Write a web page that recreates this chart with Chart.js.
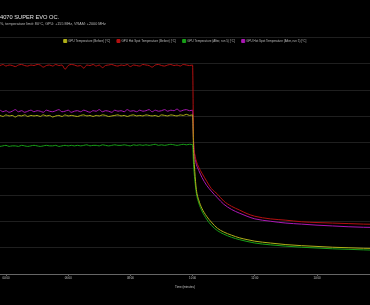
<!DOCTYPE html>
<html><head><meta charset="utf-8">
<script src="https://cdn.jsdelivr.net/npm/chart.js@4.4.1/dist/chart.umd.min.js"></script>
<style>html,body{margin:0;padding:0;background:#000;overflow:hidden}#wrap{position:relative;width:370px;height:305px;background:#000}</style>
</head><body><div id="wrap"><canvas id="c" width="370" height="305"></canvas></div>
<script>
const titleText = '4070 SUPER EVO OC.';
const subtitleText = '%, temperature limit: 80°C, GPU: +155 MHz, VRAM: +2000 MHz';
const xTitleText = 'Time (minutes)';
const seriesNames = [
  'GPU Temperature (Before) [°C]',
  'GPU Hot Spot Temperature (Before) [°C]',
  'GPU Temperature (After, run 5) [°C]',
  'GPU Hot Spot Temperature (After, run 5) [°C]'
];
const timeMinutes = [
  3.7,3.8,3.9,4.0,4.1,4.2,4.3,4.4,
  4.5,4.6,4.7,4.8,4.9,5.0,5.1,5.2,
  5.3,5.4,5.5,5.6,5.7,5.8,5.9,6.0,
  6.1,6.2,6.3,6.4,6.5,6.6,6.7,6.8,
  6.9,7.0,7.1,7.2,7.3,7.4,7.5,7.6,
  7.7,7.8,7.9,8.0,8.1,8.2,8.3,8.4,
  8.5,8.6,8.7,8.8,8.9,9.0,9.1,9.2,
  9.3,9.4,9.5,9.6,9.7,9.8,9.9,10.0,
  10.03,10.07,10.12,10.2,10.3,10.45,10.6,10.8,11.0,11.25,11.5,11.75,12.0,12.5,13.0,13.5,14.0,14.5,15.0,15.5,16.0
];
const gpuTempBefore = [
  60.1,60.2,60.0,60.3,60.1,60.2,59.9,60.2,
  60.1,60.3,60.0,60.2,60.1,60.2,60.0,60.3,
  60.1,60.2,59.9,60.1,60.2,60.0,60.3,60.1,
  60.2,60.1,60.0,60.2,60.3,60.1,60.2,60.0,
  60.2,60.1,60.3,60.2,60.0,60.1,60.2,60.3,
  60.1,60.2,60.0,60.2,60.3,60.1,60.2,60.1,
  60.3,60.2,60.1,60.2,60.0,60.3,60.2,60.1,
  60.3,60.2,60.1,60.3,60.2,60.4,60.2,60.3,
  53.7,49.55,46.1,44.05,42.5,41.0,39.9,38.7,38.0,37.4,36.9,36.55,36.25,35.9,35.6,35.4,35.25,35.1,35.0,34.9,34.85
];
const hotSpotBefore = [
  69.8,69.7,69.9,69.6,69.8,69.7,69.5,69.8,
  69.9,69.7,69.6,69.8,69.7,69.9,69.8,69.4,
  69.7,69.8,69.6,69.9,69.7,69.8,69.0,69.7,
  69.9,69.8,69.6,69.7,69.2,69.8,69.7,69.9,
  69.6,69.8,69.3,69.7,69.8,69.9,69.7,69.6,
  69.8,69.7,69.9,69.5,69.8,69.7,69.6,69.9,
  69.8,69.7,69.4,69.8,69.9,69.7,69.6,69.8,
  69.9,69.7,69.8,69.6,69.9,69.8,69.7,69.8,
  55.6,52.8,51.5,50.3,49.2,47.7,46.3,45.2,43.9,42.9,42.2,41.5,41.0,40.5,40.25,39.95,39.8,39.7,39.6,39.5,39.45
];
const gpuTempAfter = [
  54.4,54.3,54.4,54.5,54.3,54.4,54.4,54.3,
  54.5,54.4,54.3,54.4,54.5,54.4,54.3,54.4,
  54.5,54.4,54.4,54.5,54.3,54.4,54.5,54.4,
  54.5,54.4,54.5,54.4,54.5,54.6,54.4,54.5,
  54.5,54.4,54.6,54.5,54.4,54.5,54.6,54.5,
  54.5,54.6,54.5,54.4,54.6,54.5,54.6,54.5,
  54.6,54.5,54.6,54.7,54.5,54.6,54.5,54.6,
  54.7,54.6,54.5,54.6,54.7,54.6,54.7,54.6,
  50.9,48.0,45.4,43.5,42.0,40.45,39.3,38.25,37.6,37.0,36.55,36.2,35.9,35.55,35.3,35.1,34.95,34.8,34.7,34.6,34.5
];
const hotSpotAfter = [
  61.0,61.2,60.9,61.1,60.8,61.0,61.3,60.9,
  61.1,60.8,61.0,61.2,60.9,61.1,61.0,60.8,
  61.2,61.0,60.9,61.1,61.3,60.9,61.0,61.2,
  60.8,61.0,61.1,60.9,61.2,61.0,60.8,61.1,
  61.0,61.3,60.9,61.1,61.0,60.8,61.2,61.0,
  61.1,60.9,61.3,61.0,61.1,60.9,61.2,61.0,
  61.1,61.3,60.9,61.2,61.0,61.1,61.3,61.0,
  61.2,61.1,61.4,61.0,61.2,61.3,61.1,61.2,
  55.25,52.4,50.9,49.7,48.4,46.9,45.8,44.5,43.3,42.3,41.6,41.0,40.5,40.05,39.7,39.5,39.3,39.15,39.0,38.9,38.85
];
const xTickMinutes = [4, 6, 8, 10, 12, 14];
const xTickLabels = ['04:00', '06:00', '08:00', '10:00', '12:00', '14:00'];
const yTickValues = [30, 35, 40, 45, 50, 55, 60, 65, 70, 75];
const xRange = [3.807, 15.704];

const seriesValues = [gpuTempBefore, hotSpotBefore, gpuTempAfter, hotSpotAfter];
const seriesColors = ['rgb(176,176,24)', 'rgb(180,16,16)', 'rgb(24,160,24)', 'rgb(170,24,180)'];
const F = '"Liberation Sans", Arial, sans-serif';

// legend sits just below the top grid line, inside the plot, without taking layout space
const legendNudge = {
  id: 'legendNudge',
  afterLayout(chart) {
    const lg = chart.legend;
    if (lg) { lg.top -= 4.7; lg.bottom = lg.top + 14; lg.height = 14; }
  }
};

new Chart(document.getElementById('c'), {
  type: 'line',
  data: {
    datasets: seriesNames.map((name, i) => ({
      label: name,
      data: timeMinutes.map((t, k) => ({ x: t, y: seriesValues[i][k] })),
      borderColor: seriesColors[i],
      backgroundColor: seriesColors[i],
      borderWidth: 1,
      pointRadius: 0,
      cubicInterpolationMode: 'monotone',
      fill: false
    }))
  },
  options: {
    responsive: false,
    animation: false,
    devicePixelRatio: 1,
    layout: { padding: { left: 0, right: 0, top: 0, bottom: 16.04 } },
    plugins: {
      title: { display: true, text: titleText, align: 'start', color: '#e4e4e4',
        font: { family: F, size: 5.7, weight: 'normal' }, padding: { top: 13.58, bottom: 1.36 } },
      subtitle: { display: true, text: subtitleText, align: 'start', color: '#bcbcbc',
        font: { family: F, size: 3.7 }, padding: { top: 0, bottom: 10.98 } },
      legend: { position: 'top', align: 'center', maxHeight: 0.5,
        labels: { color: '#bcbcbc', font: { family: F, size: 3 }, boxWidth: 3, boxHeight: 3, padding: 7 } },
      tooltip: { enabled: false }
    },
    scales: {
      x: {
        type: 'linear', min: xRange[0], max: xRange[1],
        afterBuildTicks(s) { s.ticks = xTickMinutes.map(v => ({ value: v })); },
        ticks: { callback: (v) => xTickLabels[xTickMinutes.indexOf(v)], color: '#c8c8c8',
          font: { family: F, size: 2.8 }, padding: 1, maxRotation: 0, autoSkip: false },
        grid: { drawOnChartArea: false, color: '#666', tickLength: 2 },
        border: { color: '#666', width: 1 },
        title: { display: true, text: xTitleText, color: '#c8c8c8', font: { family: F, size: 3 }, padding: { top: 4, bottom: 0 } }
      },
      y: {
        min: 30, max: 75,
        afterBuildTicks(s) { s.ticks = yTickValues.map(v => ({ value: v })); },
        ticks: { display: false },
        grid: { color: '#1f1f1f', drawTicks: false },
        border: { display: false }
      }
    }
  },
  plugins: [legendNudge]
});
</script>
</body></html>
